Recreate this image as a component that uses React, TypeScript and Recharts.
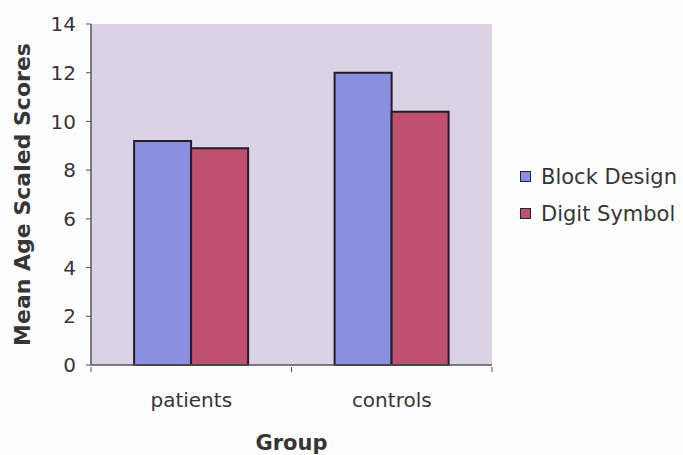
import React from 'react';
import { BarChart, Bar, XAxis, YAxis, CartesianGrid, Legend, Label } from 'recharts';

// Mean age-scaled scores per group
const groups = ['patients', 'controls'];
const blockDesign = [9.2, 12.0];
const digitSymbol = [8.9, 10.4];
const yTicks = [0, 2, 4, 6, 8, 10, 12, 14];

const series = [
  { key: 'blockDesign', name: 'Block Design', color: '#8b8fe0' },
  { key: 'digitSymbol', name: 'Digit Symbol', color: '#c0506f' },
];

const data = groups.map((group, i) => ({
  group,
  blockDesign: blockDesign[i],
  digitSymbol: digitSymbol[i],
}));

const FONT = '"DejaVu Sans", Arial, sans-serif';
const TEXT = '#363636';
const AXIS = '#555';

// category label plus tick marks on the category boundaries
function GroupTick(props: any) {
  const { x, y, payload, index, visibleTicksCount } = props;
  const half = payload?.offset ?? 100;
  return (
    <g>
      <line x1={x - half} y1={y} x2={x - half} y2={y + 5} stroke={AXIS} />
      {index === visibleTicksCount - 1 && (
        <line x1={x + half} y1={y} x2={x + half} y2={y + 5} stroke={AXIS} />
      )}
      <text x={x} y={y + 40} textAnchor="middle" fontSize={20} fill={TEXT} fontFamily={FONT}>
        {payload.value}
      </text>
    </g>
  );
}

function SeriesLegend() {
  return (
    <div style={{ fontFamily: FONT, fontSize: 21, color: TEXT }}>
      {series.map((s) => (
        <div key={s.key} style={{ display: 'flex', alignItems: 'center', height: 37 }}>
          <span
            style={{
              display: 'inline-block',
              width: 9,
              height: 9,
              background: s.color,
              border: '1.5px solid #2a2030',
              marginRight: 10,
            }}
          />
          {s.name}
        </div>
      ))}
    </div>
  );
}

export default function App() {
  return (
    <div style={{ position: 'absolute', left: 0, top: 0, width: 683, height: 455, background: '#fdfdfd' }}>
      <BarChart
        width={683}
        height={455}
        data={data}
        margin={{ top: 24, right: 191, left: 0, bottom: 0 }}
        barCategoryGap="21.5%"
        barGap={0}
      >
        <CartesianGrid horizontal={false} vertical={false} fill="#dcd2e5" />
        <XAxis
          dataKey="group"
          height={90}
          tickLine={false}
          tickSize={0}
          tick={<GroupTick />}
          axisLine={{ stroke: AXIS, strokeWidth: 1.5 }}
        >
          <Label
            content={(p: any) => {
              const vb = p.viewBox;
              return (
                <text
                  x={vb.x + vb.width / 2}
                  y={vb.y + 85}
                  textAnchor="middle"
                  fontSize={21}
                  fontWeight="bold"
                  fill={TEXT}
                  fontFamily={FONT}
                >
                  Group
                </text>
              );
            }}
          />
        </XAxis>
        <XAxis
          xAxisId="top"
          dataKey="group"
          orientation="top"
          height={0}
          tick={false}
          tickLine={false}
          axisLine={{ stroke: '#8c8a90' }}
        />
        <YAxis
          width={91}
          domain={[0, 14]}
          ticks={yTicks}
          tickSize={5}
          tickMargin={10}
          tickLine={{ stroke: AXIS }}
          axisLine={{ stroke: AXIS, strokeWidth: 1.5 }}
          tick={{ fontSize: 20, fill: TEXT, fontFamily: FONT }}
        >
          <Label
            content={(p: any) => {
              const vb = p.viewBox;
              const cy = vb.y + vb.height / 2;
              return (
                <text
                  x={22}
                  y={cy}
                  transform={`rotate(-90, 22, ${cy})`}
                  textAnchor="middle"
                  dominantBaseline="central"
                  fontSize={22}
                  fontWeight="bold"
                  fill={TEXT}
                  fontFamily={FONT}
                >
                  Mean Age Scaled Scores
                </text>
              );
            }}
          />
        </YAxis>
        <YAxis
          yAxisId="right"
          orientation="right"
          width={0}
          tick={false}
          tickLine={false}
          axisLine={{ stroke: '#8c8a90' }}
        />
        <Legend
          layout="vertical"
          align="center"
          verticalAlign="middle"
          content={<SeriesLegend />}
          wrapperStyle={{ left: 520, top: 158, width: 175 }}
        />
        {series.map((s) => (
          <Bar
            key={s.key}
            dataKey={s.key}
            name={s.name}
            fill={s.color}
            stroke="#241c28"
            strokeWidth={2}
            isAnimationActive={false}
          />
        ))}
      </BarChart>
    </div>
  );
}
